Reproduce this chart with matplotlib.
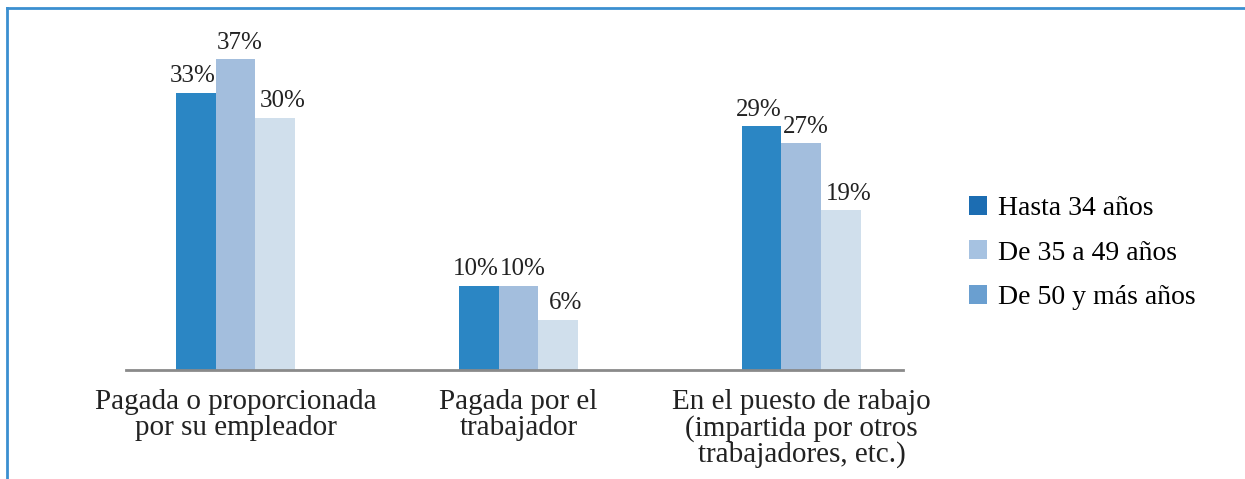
import numpy as np
import matplotlib.pyplot as plt
from matplotlib.patches import Patch
from matplotlib.lines import Line2D

# -------------------------------
# Data
# -------------------------------
categories = ['Pagada o proporcionada\npor su empleador',
              'Pagada por el\ntrabajador',
              'En el puesto de rabajo\n(impartida por otros\ntrabajadores, etc.)']
series_names = ['Hasta 34 años', 'De 35 a 49 años', 'De 50 y más años']
hasta_34 = [33, 10, 29]
de_35_49 = [37, 10, 27]
de_50_mas = [30, 6, 19]

bar_colors = ['#2b86c4', '#a3bedd', '#d0dfec']
legend_colors = ['#1c6db2', '#a6c2e1', '#6a9fd0']
label_shift = [-2, 3, 5]   # horizontal nudge of value labels, in points

# -------------------------------
# Plot
# -------------------------------
plt.rcParams['font.family'] = ['Liberation Serif', 'DejaVu Serif']

fig = plt.figure(figsize=(12.45, 4.79), dpi=100)
ax = fig.add_axes([126 / 1245, 1 - 370 / 479, 777 / 1245, 336 / 479])

x = np.arange(len(categories))
width = 0.141
series = [hasta_34, de_35_49, de_50_mas]

for k, vals in enumerate(series):
    pos = x + (k - 1) * width
    ax.bar(pos, vals, width=width, color=bar_colors[k], edgecolor='none')
    for p, v in zip(pos, vals):
        ax.annotate(f'{v}%', (p, v), xytext=(label_shift[k], 4),
                    textcoords='offset points', ha='center', va='bottom',
                    fontsize=18, color='#222222')

ax.set_xlim(-0.387, 2.359)
ax.set_ylim(0, 40)

for s in ['top', 'right', 'left']:
    ax.spines[s].set_visible(False)
ax.spines['bottom'].set_color('#8a8a8a')
ax.spines['bottom'].set_linewidth(2)
ax.set_yticks([])
ax.set_xticks(x)
ax.set_xticklabels(categories, fontsize=21, color='#222222', linespacing=0.98)
ax.tick_params(axis='x', length=0, pad=14)

handles = [Patch(facecolor=c, edgecolor='none') for c in legend_colors]
fig.legend(handles, series_names, loc='center left',
           bbox_to_anchor=(955 / 1245, 1 - 253 / 479), frameon=False,
           fontsize=20, handlelength=0.65, handleheight=0.65,
           handletextpad=0.4, labelspacing=0.7, borderpad=0)

# Frame lines (top and left only)
fig.add_artist(Line2D([7 / 1245, 1], [1 - 8 / 479, 1 - 8 / 479],
                      color='#3b8fd0', linewidth=2, transform=fig.transFigure))
fig.add_artist(Line2D([7 / 1245, 7 / 1245], [0, 1 - 8 / 479],
                      color='#3b8fd0', linewidth=2, transform=fig.transFigure))

plt.savefig('out.png', dpi=100)
